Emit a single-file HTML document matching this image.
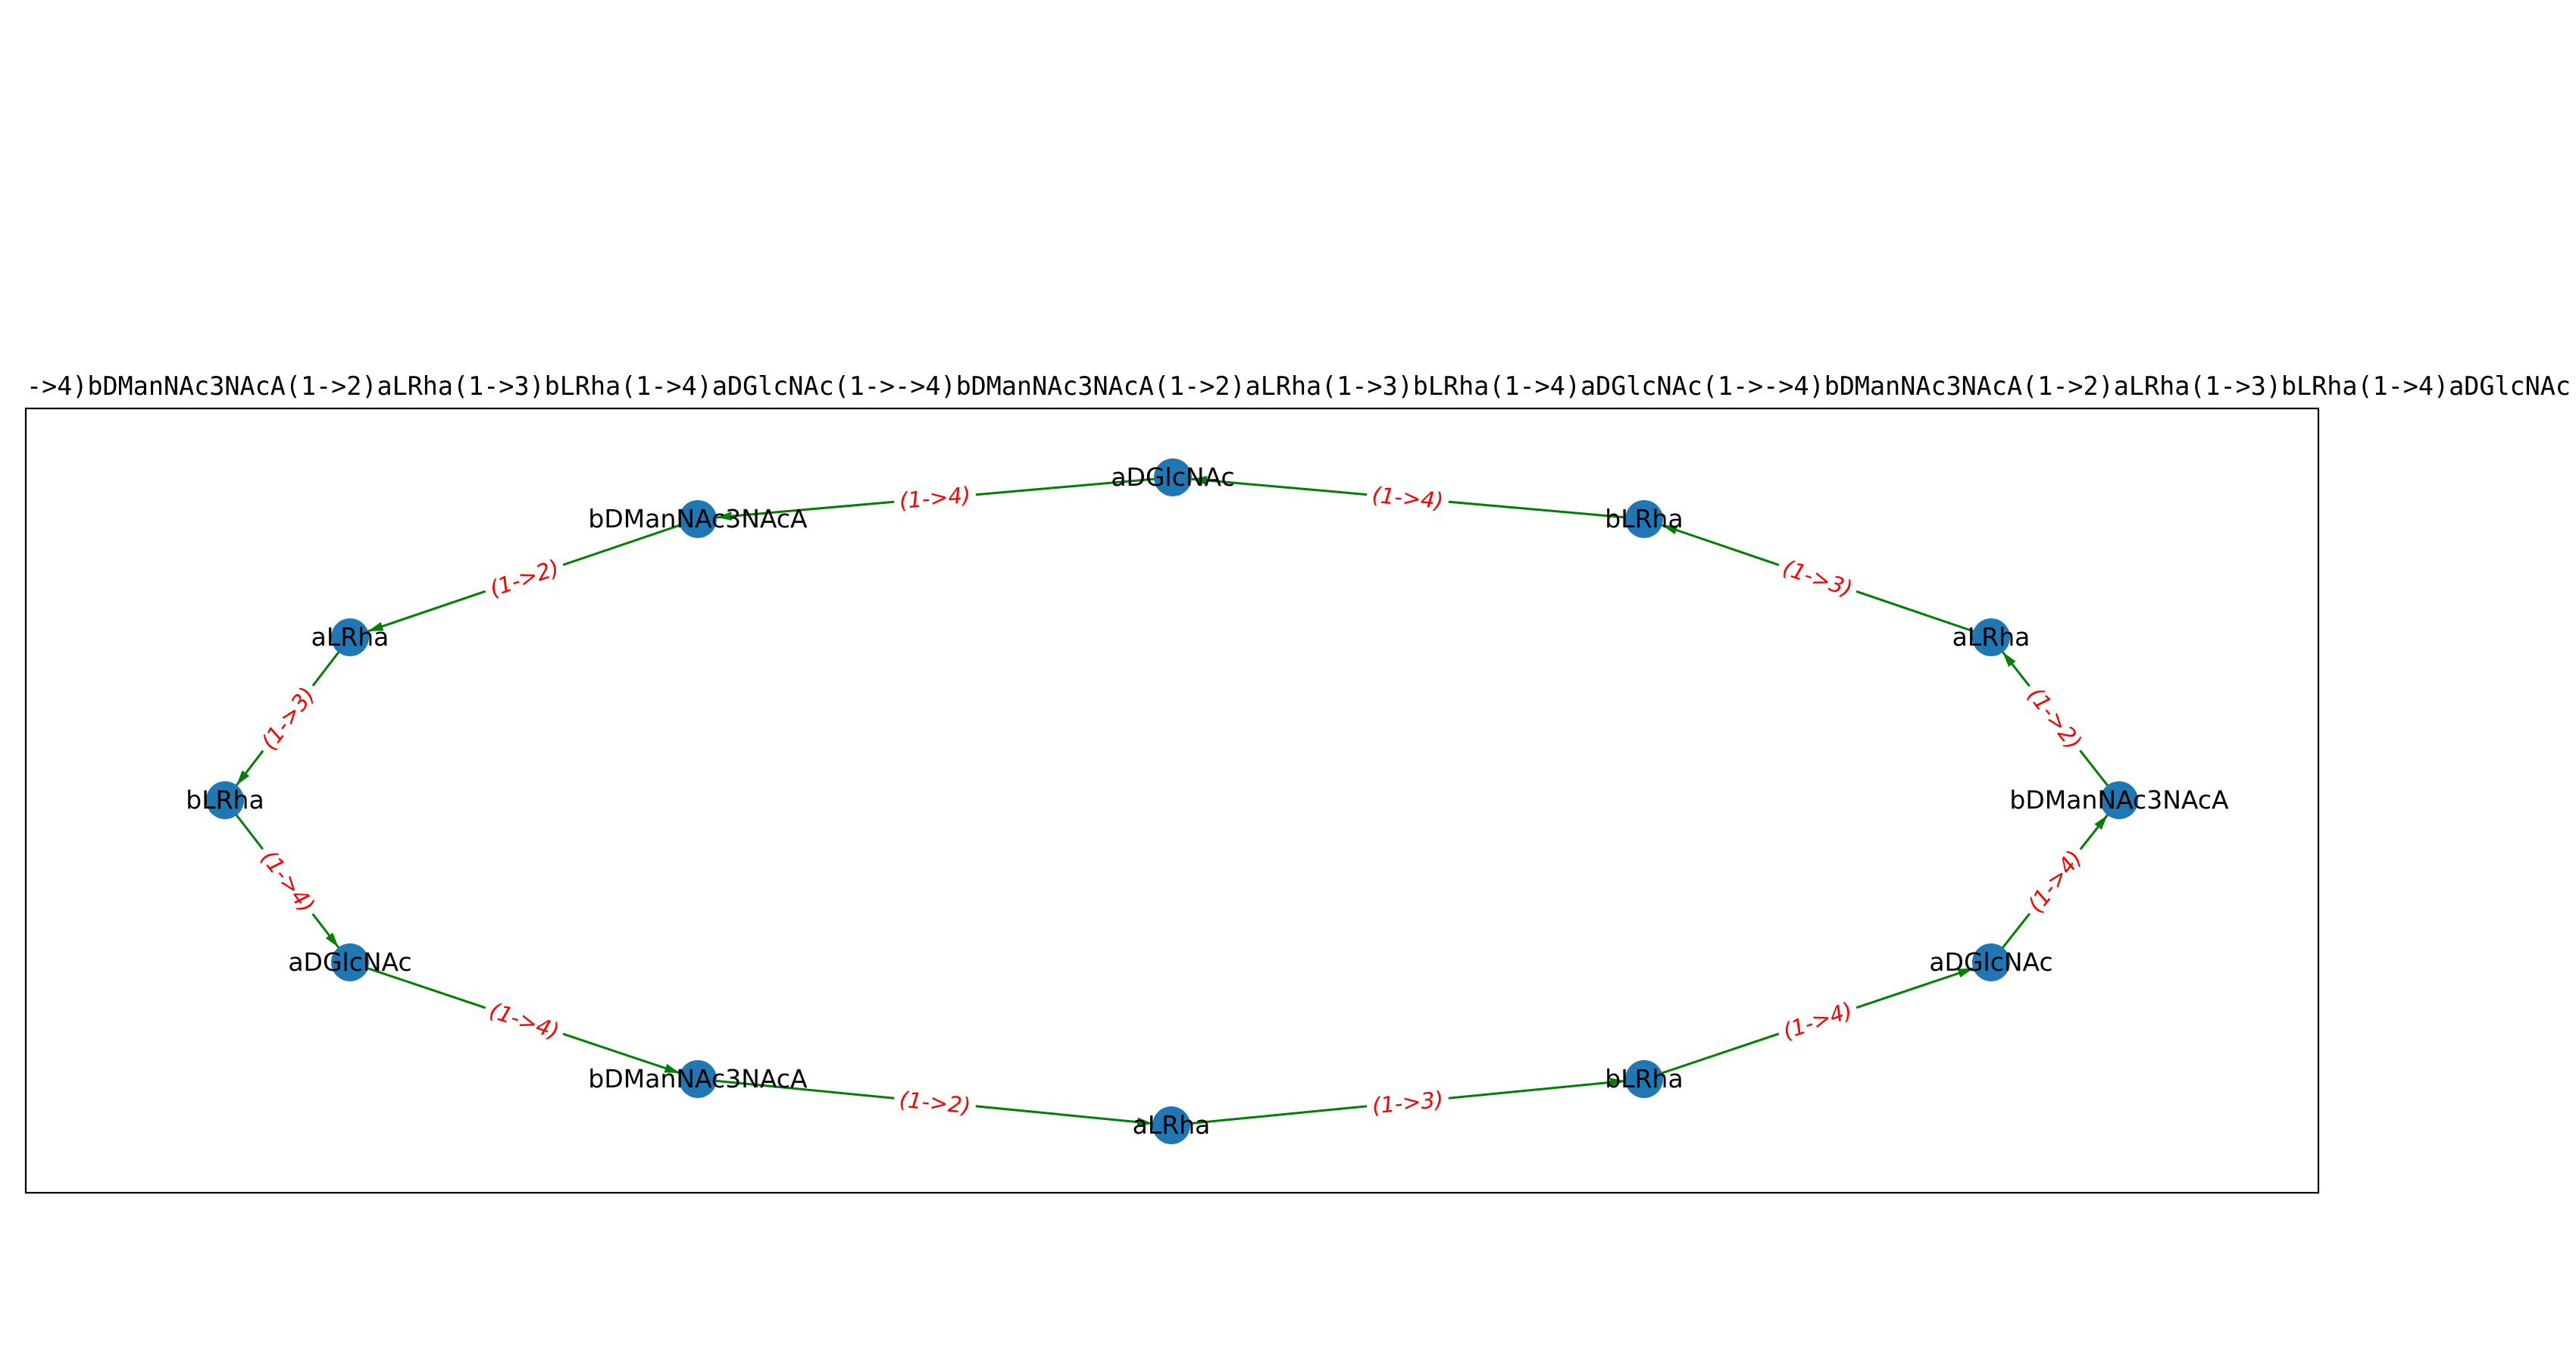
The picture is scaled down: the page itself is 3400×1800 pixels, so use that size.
<!DOCTYPE html>
<html><head><meta charset="utf-8"><style>html,body{margin:0;padding:0;background:#fff}svg{display:block}</style></head>
<body>
<svg width="3400" height="1800" viewBox="0 0 3400 1800" xmlns="http://www.w3.org/2000/svg">
<defs>
<marker id="ah" markerUnits="userSpaceOnUse" markerWidth="60" markerHeight="20" refX="45" refY="0" viewBox="0 -10 60 20" orient="auto">
<path d="M0,-6 L20,0 L0,6 z" fill="#008000"/>
</marker>
</defs>
<rect x="0" y="0" width="3400" height="1800" fill="#fff"/>
<text x="35" y="521" font-family="'DejaVu Sans Mono','Liberation Mono',monospace" font-size="33.4" textLength="3358" lengthAdjust="spacingAndGlyphs" fill="#000">-&gt;4)bDManNAc3NAcA(1-&gt;2)aLRha(1-&gt;3)bLRha(1-&gt;4)aDGlcNAc(1-&gt;-&gt;4)bDManNAc3NAcA(1-&gt;2)aLRha(1-&gt;3)bLRha(1-&gt;4)aDGlcNAc(1-&gt;-&gt;4)bDManNAc3NAcA(1-&gt;2)aLRha(1-&gt;3)bLRha(1-&gt;4)aDGlcNAc</text>
<rect x="34" y="539" width="3026" height="1035" fill="none" stroke="#000" stroke-width="2.2"/>
<g stroke="#008000" stroke-width="3" fill="none" marker-end="url(#ah)">
<line x1="1548" y1="630" x2="921" y2="685"/>
<line x1="921" y1="685" x2="462" y2="841"/>
<line x1="462" y1="841" x2="297" y2="1056"/>
<line x1="297" y1="1056" x2="462" y2="1270"/>
<line x1="462" y1="1270" x2="921" y2="1424"/>
<line x1="921" y1="1424" x2="1546" y2="1485"/>
<line x1="1546" y1="1485" x2="2170" y2="1424"/>
<line x1="2170" y1="1424" x2="2628" y2="1270"/>
<line x1="2628" y1="1270" x2="2797" y2="1056"/>
<line x1="2797" y1="1056" x2="2628" y2="841"/>
<line x1="2628" y1="841" x2="2170" y2="685"/>
<line x1="2170" y1="685" x2="1548" y2="630"/>
</g>
<g font-family="'DejaVu Sans','Liberation Sans',sans-serif" font-style="italic" font-size="29" fill="#f00" text-anchor="middle">
<g transform="translate(1234,657) rotate(-5.1)"><rect x="-54" y="-18" width="108" height="36" fill="#fff"/><text y="10">(1-&gt;4)</text></g>
<g transform="translate(692,763) rotate(-18.8)"><rect x="-54" y="-18" width="108" height="36" fill="#fff"/><text y="10">(1-&gt;2)</text></g>
<g transform="translate(380,948) rotate(-52.5)"><rect x="-54" y="-18" width="108" height="36" fill="#fff"/><text y="10">(1-&gt;3)</text></g>
<g transform="translate(380,1163) rotate(52.4)"><rect x="-54" y="-18" width="108" height="36" fill="#fff"/><text y="10">(1-&gt;4)</text></g>
<g transform="translate(692,1347) rotate(18.5)"><rect x="-54" y="-18" width="108" height="36" fill="#fff"/><text y="10">(1-&gt;4)</text></g>
<g transform="translate(1234,1455) rotate(5.6)"><rect x="-54" y="-18" width="108" height="36" fill="#fff"/><text y="10">(1-&gt;2)</text></g>
<g transform="translate(1858,1455) rotate(-5.6)"><rect x="-54" y="-18" width="108" height="36" fill="#fff"/><text y="10">(1-&gt;3)</text></g>
<g transform="translate(2399,1347) rotate(-18.6)"><rect x="-54" y="-18" width="108" height="36" fill="#fff"/><text y="10">(1-&gt;4)</text></g>
<g transform="translate(2712,1163) rotate(-51.7)"><rect x="-54" y="-18" width="108" height="36" fill="#fff"/><text y="10">(1-&gt;4)</text></g>
<g transform="translate(2712,948) rotate(51.8)"><rect x="-54" y="-18" width="108" height="36" fill="#fff"/><text y="10">(1-&gt;2)</text></g>
<g transform="translate(2399,763) rotate(18.8)"><rect x="-54" y="-18" width="108" height="36" fill="#fff"/><text y="10">(1-&gt;3)</text></g>
<g transform="translate(1858,657) rotate(5.1)"><rect x="-54" y="-18" width="108" height="36" fill="#fff"/><text y="10">(1-&gt;4)</text></g>
</g>
<g fill="#1f77b4">
<circle cx="1548" cy="630" r="25"/>
<circle cx="921" cy="685" r="25"/>
<circle cx="2170" cy="685" r="25"/>
<circle cx="462" cy="841" r="25"/>
<circle cx="2628" cy="841" r="25"/>
<circle cx="297" cy="1056" r="25"/>
<circle cx="2797" cy="1056" r="25"/>
<circle cx="462" cy="1270" r="25"/>
<circle cx="2628" cy="1270" r="25"/>
<circle cx="921" cy="1424" r="25"/>
<circle cx="2170" cy="1424" r="25"/>
<circle cx="1546" cy="1485" r="25"/>
</g>
<g font-family="'DejaVu Sans','Liberation Sans',sans-serif" font-size="33" fill="#000" text-anchor="middle">
<text x="1548" y="641">aDGlcNAc</text>
<text x="921" y="696">bDManNAc3NAcA</text>
<text x="2170" y="696">bLRha</text>
<text x="462" y="852">aLRha</text>
<text x="2628" y="852">aLRha</text>
<text x="297" y="1067">bLRha</text>
<text x="2797" y="1067">bDManNAc3NAcA</text>
<text x="462" y="1281">aDGlcNAc</text>
<text x="2628" y="1281">aDGlcNAc</text>
<text x="921" y="1435">bDManNAc3NAcA</text>
<text x="2170" y="1435">bLRha</text>
<text x="1546" y="1496">aLRha</text>
</g>
</svg>
</body></html>
